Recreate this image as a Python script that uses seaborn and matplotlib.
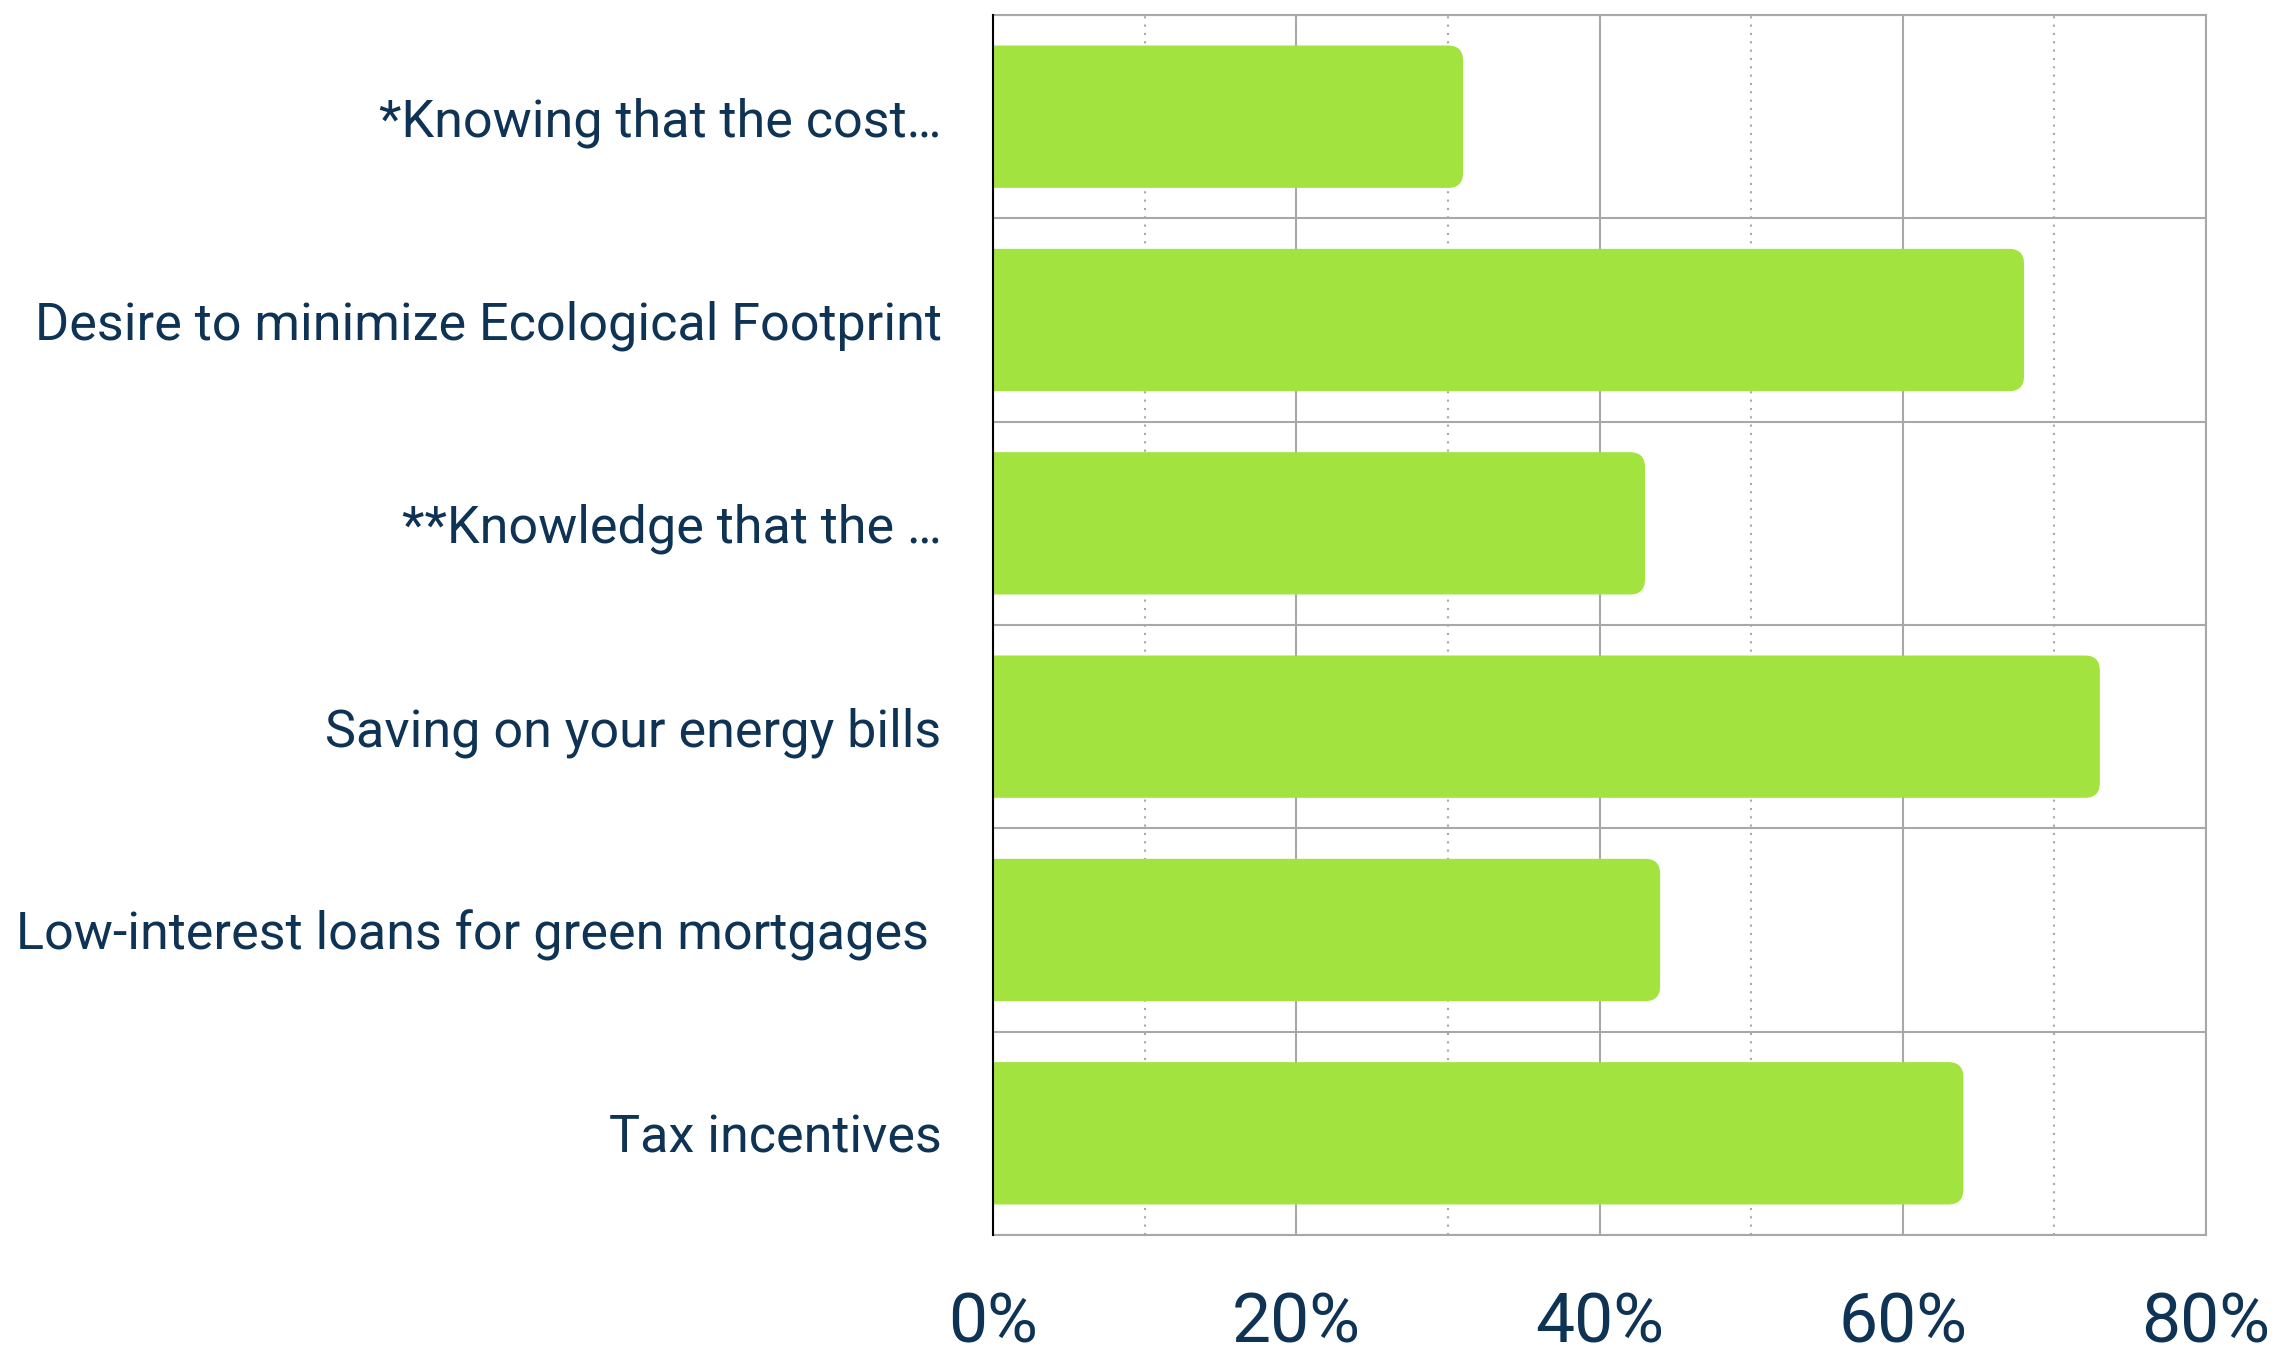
import matplotlib
matplotlib.use('Agg')
import matplotlib.pyplot as plt
import seaborn as sns
import numpy as np
from matplotlib.patches import FancyBboxPatch

# Survey data (share of respondents, %)
categories = [
    '*Knowing that the cost\u2026',
    'Desire to minimize Ecological Footprint',
    '**Knowledge that the \u2026',
    'Saving on your energy bills',
    'Low-interest loans for green mortgages ',
    'Tax incentives',
]
values = [31, 68, 43, 73, 44, 64]
x_ticks = [0, 20, 40, 60, 80]
x_tick_labels = ['0%', '20%', '40%', '60%', '80%']

BAR_COLOR = '#a2e33f'
TEXT_COLOR = '#0e3354'
GRID_COLOR = '#a7a9a9'

sns.set_style('white')
plt.rcParams['font.family'] = ['Roboto', 'DejaVu Sans']

fig = plt.figure(figsize=(22.86, 13.55), dpi=100)
ax = fig.add_axes([0.4344, 0.0886, 0.5306, 0.9003])

sns.barplot(x=values, y=categories, orient='h', color=BAR_COLOR,
            width=0.7, saturation=1, ax=ax)

ax.set_xlim(0, 80)
ax.set_ylim(len(categories) - 0.5, -0.5)
ax.set_xticks(x_ticks)
ax.set_xticklabels(x_tick_labels)
ax.set_xticks(np.arange(10, 80, 20), minor=True)
ax.set_yticks(np.arange(-0.5, len(categories)), minor=True)
ax.set_xlabel('')
ax.set_ylabel('')

ax.grid(axis='x', which='major', color=GRID_COLOR, lw=1.5, ls='-')
ax.grid(axis='x', which='minor', color=GRID_COLOR, lw=1.5, ls=(0, (1, 3)))
ax.grid(axis='y', which='minor', color=GRID_COLOR, lw=1.5, ls='-')
ax.grid(axis='y', which='major', visible=False)
ax.set_axisbelow(True)

ax.tick_params(which='both', length=0)
ax.tick_params(axis='y', labelsize=37.5, labelcolor=TEXT_COLOR, pad=37)
ax.tick_params(axis='x', labelsize=50, labelcolor=TEXT_COLOR, pad=40)

for side in ['top', 'right', 'bottom']:
    ax.spines[side].set_color(GRID_COLOR)
    ax.spines[side].set_linewidth(1.5)
ax.spines['left'].set_color('black')
ax.spines['left'].set_linewidth(1.5)
ax.spines['left'].set_zorder(5)

# swap the plain bars for ones with rounded ends
trans = ax.transData
px_x = abs((trans.transform((1, 0)) - trans.transform((0, 0)))[0])
px_y = abs((trans.transform((0, 1)) - trans.transform((0, 0)))[1])
aspect = px_x / px_y
r = 15 / px_x
for p in list(ax.patches):
    x0, y0, w, h = p.get_x(), p.get_y(), p.get_width(), p.get_height()
    p.remove()
    ax.add_patch(FancyBboxPatch((x0 - 2 * r, y0), w + 2 * r, h,
                                boxstyle=f'round,pad=0,rounding_size={r}',
                                mutation_aspect=aspect, fc=BAR_COLOR,
                                ec='none', zorder=3))

fig.savefig('out.png', dpi=100)
plt.close(fig)
